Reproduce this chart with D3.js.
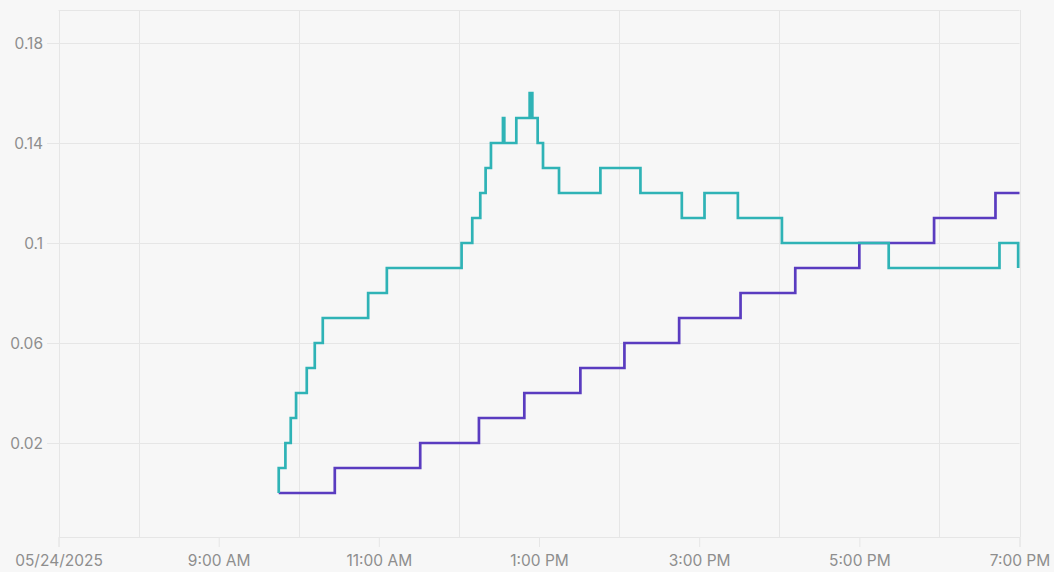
<!DOCTYPE html>
<html><head><meta charset="utf-8">
<script src="https://cdn.jsdelivr.net/npm/d3@7"></script>
<style>
html,body{margin:0;padding:0;background:#f7f7f7;}
svg{display:block;font-family:Inter,"Noto Sans",sans-serif;}
</style></head>
<body><svg id="c" width="1054" height="572"></svg>
<script>
// ---- data ----
const dateLabel = "05/24/2025";
const tealTimes  = ["09:45","09:45","09:50","09:54","09:58","10:06","10:12","10:18","10:52","11:06","12:02","12:10","12:16","12:20","12:24","12:33","12:34","12:43","12:53","12:55","12:59","13:03","13:15","13:46","14:16","14:47","15:04","15:29","16:02","17:22","18:45","18:59"];
const tealValues = [0.00,0.01,0.02,0.03,0.04,0.05,0.06,0.07,0.08,0.09,0.10,0.11,0.12,0.13,0.14,0.15,0.14,0.15,0.16,0.15,0.14,0.13,0.12,0.13,0.12,0.11,0.12,0.11,0.10,0.09,0.10,0.09];
const purpleTimes  = ["09:45","10:27","11:31","12:15","12:49","13:31","14:04","14:45","15:31","16:12","17:00","17:56","18:42","19:00"];
const purpleValues = [0.00,0.01,0.02,0.03,0.04,0.05,0.06,0.07,0.08,0.09,0.10,0.11,0.12,0.12];
const yTicks = [0.02,0.06,0.1,0.14,0.18];
const xTickHours = [7,9,11,13,15,17,19];
const xGridHours = [8,10,12,14,16,18];

// ---- setup ----
const svg = d3.select("#c");
const L = 58.5, R = 1019.5, T = 10, B = 537;
const day = (h,m) => new Date(2025,4,24,h,m||0);
const parse = s => { const [h,m] = s.split(":").map(Number); return day(h,m); };
const x = d3.scaleTime().domain([day(7), day(19)]).range([L, R]);
const y = d3.scaleLinear().domain([-0.0176, 0.1932]).range([B, T]);
const gridC = "#e6e6e6", textC = "#8e8e8e";

// horizontal gridlines + y ticks
const gy = svg.append("g");
yTicks.forEach(v => {
  const yy = Math.round(y(v)) + 0.5;
  gy.append("line").attr("x1", 47).attr("x2", R).attr("y1", yy).attr("y2", yy)
    .attr("stroke", gridC).attr("stroke-width", 1);
  gy.append("text").attr("x", 43).attr("y", yy).attr("dy", "0.35em")
    .attr("text-anchor", "end").attr("fill", textC).attr("font-size", 15.5)
    .text(d3.format("")(v));
});
// top border
svg.append("line").attr("x1", L).attr("x2", R).attr("y1", T+0.5).attr("y2", T+0.5).attr("stroke", gridC);
// vertical gridlines
xGridHours.forEach(h => {
  const xx = Math.round(x(day(h))) + 0.5;
  svg.append("line").attr("x1", xx).attr("x2", xx).attr("y1", T).attr("y2", B)
    .attr("stroke", gridC);
});
// left / right borders
[L, R].forEach(xx => svg.append("line").attr("x1", Math.round(xx)+0.5).attr("x2", Math.round(xx)+0.5)
  .attr("y1", T).attr("y2", B).attr("stroke", gridC));

// x axis
const xAxis = d3.axisBottom(x)
  .tickValues(xTickHours.map(h => day(h)))
  .tickSize(10).tickPadding(8)
  .tickFormat((d,i) => i === 0 ? dateLabel : d3.timeFormat("%-I:%M %p")(d));
const ax = svg.append("g").attr("transform", `translate(0,${B})`).call(xAxis);
ax.select(".domain").attr("stroke", gridC);
ax.selectAll(".tick line").attr("stroke", gridC);
ax.selectAll("text").attr("fill", textC).attr("font-size", 15.5).attr("font-family", "Inter,'Noto Sans',sans-serif");

// lines
const line = d3.line().curve(d3.curveStepAfter).x(d => x(d[0])).y(d => y(d[1]));
const purple = purpleTimes.map((t,i) => [parse(t), purpleValues[i]]);
const teal = tealTimes.map((t,i) => [parse(t), tealValues[i]]);
svg.append("path").datum(purple).attr("d", line).attr("fill", "none")
  .attr("stroke", "#5a3cc0").attr("stroke-width", 2.7);
svg.append("path").datum(teal).attr("d", line).attr("fill", "none")
  .attr("stroke", "#2fb3b6").attr("stroke-width", 2.7);
</script>
</body></html>
